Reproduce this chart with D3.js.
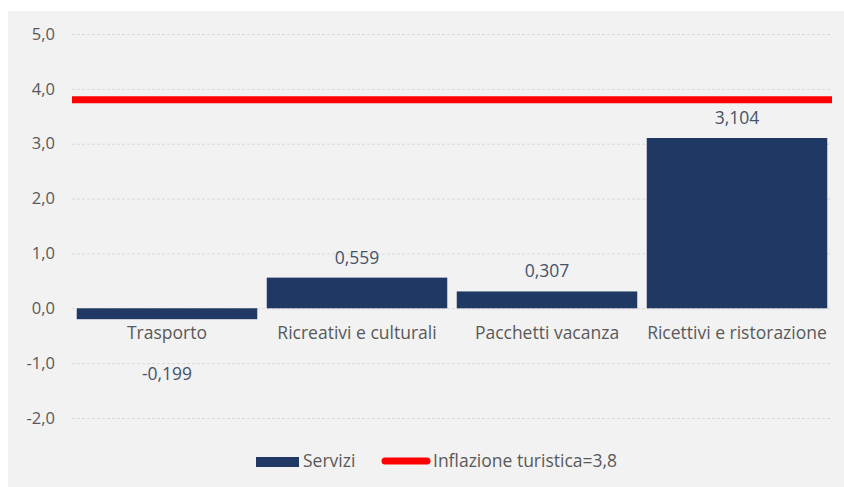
<!DOCTYPE html>
<html lang="it">
<head>
    <meta charset="UTF-8">
    <title>Inflazione servizi turistici</title>
    <script src="https://cdn.jsdelivr.net/npm/d3@7"></script>
    <style>
        body { margin: 0; background: #fff; }
        text { font-family: "Open Sans", "Noto Sans", sans-serif; }
    </style>
</head>
<body>
    <div class="chart"></div>
<script>
    const categories = ['Trasporto', 'Ricreativi e culturali', 'Pacchetti vacanza', 'Ricettivi e ristorazione']
    const servizi = [-0.199, 0.559, 0.307, 3.104]
    const inflazione = 3.8
    const yTicks = [-2, -1, 0, 1, 2, 3, 4, 5]
    const legendLabels = ['Servizi', 'Inflazione turistica=3,8']

    const width = 844
    const height = 487
    const margin = { top: 34, right: 12, bottom: 69, left: 72 }

    const svg = d3.select('.chart')
        .append('svg')
        .attr('width', width)
        .attr('height', height)

    // chart area background
    svg.append('rect')
        .attr('x', 8).attr('y', 11)
        .attr('width', width - 8).attr('height', height - 11)
        .attr('fill', '#f2f2f2')

    const x = d3.scaleBand()
        .domain(categories)
        .range([margin.left, width - margin.right])
        .paddingInner(0.05)
        .paddingOuter(0.025)

    const y = d3.scaleLinear()
        .domain([-2, 5])
        .range([418, margin.top])

    const fmt = (v, d) => d3.format(`.${d}f`)(v).replace('.', ',').replace('−', '-')

    // grid + y labels
    const yAxis = d3.axisLeft(y)
        .tickValues(yTicks)
        .tickSize(-(width - margin.right - margin.left))
        .tickPadding(17)
        .tickFormat(d => fmt(d, 1))
    const gy = svg.append('g')
        .attr('transform', `translate(${margin.left},0)`)
        .call(yAxis)
    gy.select('.domain').remove()
    gy.selectAll('.tick line')
        .attr('stroke', '#d9d9d9')
        .attr('stroke-dasharray', '3,2')
    gy.selectAll('.tick text')
        .attr('fill', '#595959')
        .attr('font-size', 16.5)

    // bars
    svg.selectAll('.bar')
        .data(servizi)
        .enter()
        .append('rect')
        .attr('class', 'bar')
        .attr('x', (d, i) => x(categories[i]))
        .attr('width', x.bandwidth())
        .attr('y', d => y(Math.max(0, d)))
        .attr('height', d => Math.abs(y(d) - y(0)))
        .attr('fill', '#203864')

    // category labels
    svg.selectAll('.cat')
        .data(categories)
        .enter()
        .append('text')
        .attr('class', 'cat')
        .attr('x', d => x(d) + x.bandwidth() / 2)
        .attr('y', y(0) + 31)
        .attr('text-anchor', 'middle')
        .attr('fill', '#595959')
        .attr('font-size', 17.5)
        .text(d => d)

    // value labels
    svg.selectAll('.val')
        .data(servizi)
        .enter()
        .append('text')
        .attr('class', 'val')
        .attr('x', (d, i) => x(categories[i]) + x.bandwidth() / 2)
        .attr('y', d => d >= 0 ? y(d) - 14 : y(d) + 61)
        .attr('text-anchor', 'middle')
        .attr('fill', '#44546a')
        .attr('font-size', 17.5)
        .text(d => fmt(d, 3))

    // inflation line
    svg.append('line')
        .attr('x1', margin.left)
        .attr('x2', width - margin.right)
        .attr('y1', y(inflazione))
        .attr('y2', y(inflazione))
        .attr('stroke', '#ff0000')
        .attr('stroke-width', 7)

    // legend
    const lg = svg.append('g')
    lg.append('rect')
        .attr('x', 256).attr('y', 457)
        .attr('width', 43).attr('height', 10)
        .attr('fill', '#203864')
    lg.append('text')
        .attr('x', 303).attr('y', 467)
        .attr('fill', '#595959')
        .attr('font-size', 17.5)
        .text(legendLabels[0])
    lg.append('line')
        .attr('x1', 385).attr('x2', 427)
        .attr('y1', 461).attr('y2', 461)
        .attr('stroke', '#ff0000')
        .attr('stroke-width', 7)
        .attr('stroke-linecap', 'round')
    lg.append('text')
        .attr('x', 433).attr('y', 467)
        .attr('fill', '#595959')
        .attr('font-size', 17.5)
        .text(legendLabels[1])
</script>
</body>
</html>
